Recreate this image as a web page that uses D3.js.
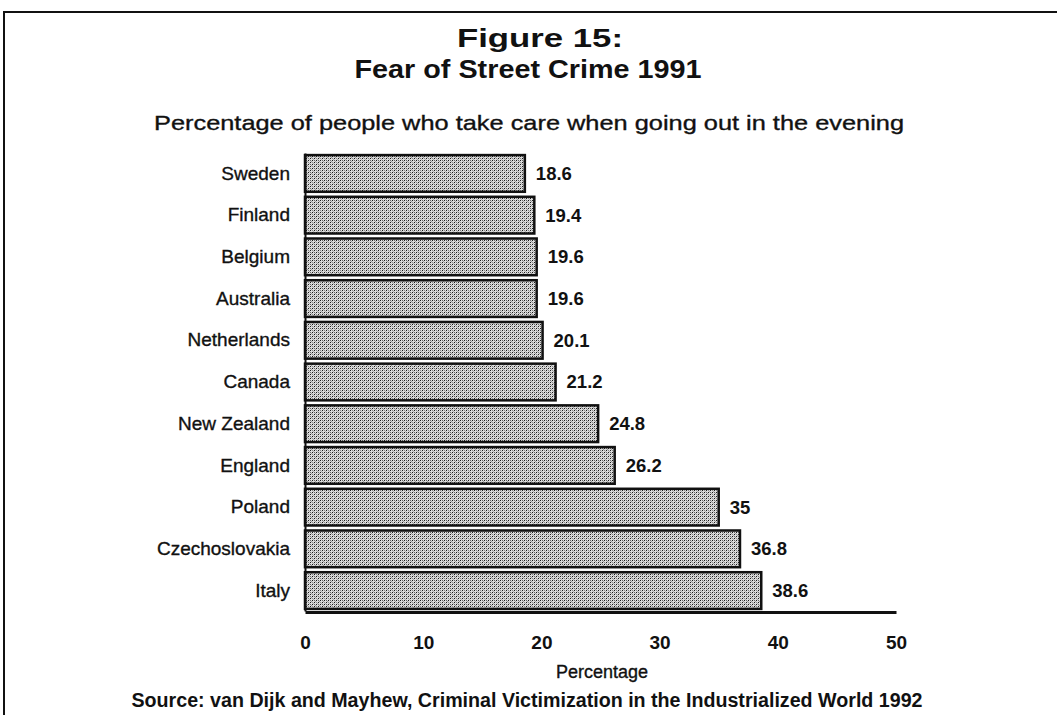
<!DOCTYPE html>
<html>
<head>
<meta charset="utf-8">
<script src="https://cdn.jsdelivr.net/npm/d3@7"></script>
<style>
  body { margin: 0; background: #fff; }
  svg { display: block; }
  text { font-family: "Liberation Sans", Arial, Helvetica, sans-serif; fill: #111; }
  .heavy { stroke: #111; stroke-width: 0.35px; }
</style>
</head>
<body>
<svg id="chart" width="1057" height="715"></svg>
<script>
const countries = [
  "Sweden", "Finland", "Belgium", "Australia", "Netherlands", "Canada",
  "New Zealand", "England", "Poland", "Czechoslovakia", "Italy",
];
const values = [18.6, 19.4, 19.6, 19.6, 20.1, 21.2, 24.8, 26.2, 35, 36.8, 38.6];
const valueLabels = ["18.6", "19.4", "19.6", "19.6", "20.1", "21.2", "24.8", "26.2", "35", "36.8", "38.6"];
const xTicks = [0, 10, 20, 30, 40, 50];
const titleLines = ["Figure 15:", "Fear of Street Crime 1991"];
const subtitle = "Percentage of people who take care when going out in the evening";
const axisTitle = "Percentage";
const sourceNote = "Source: van Dijk and Mayhew, Criminal Victimization in the Industrialized World 1992";

const rows = countries.map((country, i) => ({
  country,
  value: values[i],
  label: valueLabels[i],
}));

const svg = d3.select("#chart");

// halftone-looking fill used for every bar
const pattern = svg
  .append("defs")
  .append("pattern")
  .attr("id", "dots")
  .attr("width", 4)
  .attr("height", 4)
  .attr("patternUnits", "userSpaceOnUse");

pattern.append("rect").attr("width", 4).attr("height", 4).attr("fill", "#dcdcdc");
[[0, 0, "#1a1a1a"], [2, 2, "#1a1a1a"], [2, 0, "#666"], [0, 2, "#888"], [1, 3, "#aaa"], [3, 1, "#999"]].forEach(
  ([px, py, color]) => {
    pattern.append("rect").attr("x", px).attr("y", py).attr("width", 1).attr("height", 1).attr("fill", color);
  },
);

// page frame (top and left edges only, as in the scan)
svg
  .append("path")
  .attr("d", "M3,12H1057M4,12V715")
  .attr("fill", "none")
  .attr("stroke", "#111")
  .attr("stroke-width", 2);

const x = d3.scaleLinear().domain([0, 50]).range([305, 896]);
const y = d3
  .scaleBand()
  .domain(countries)
  .range([153, 611])
  .paddingInner(0.12)
  .paddingOuter(0.05);

// titles
svg
  .selectAll("text.title")
  .data(titleLines)
  .join("text")
  .attr("class", "title")
  .attr("x", (_, i) => (i === 0 ? 540 : 528))
  .attr("y", (_, i) => (i === 0 ? 47 : 78))
  .attr("text-anchor", "middle")
  .attr("font-size", 26)
  .attr("font-weight", "bold")
  .attr("textLength", (_, i) => (i === 0 ? 166 : 347))
  .attr("lengthAdjust", "spacingAndGlyphs")
  .text((line) => line);

svg
  .append("text")
  .attr("class", "heavy")
  .attr("x", 529)
  .attr("y", 130)
  .attr("text-anchor", "middle")
  .attr("font-size", 21)
  .attr("textLength", 750)
  .attr("lengthAdjust", "spacingAndGlyphs")
  .text(subtitle);

// bars
svg
  .append("g")
  .selectAll("rect")
  .data(rows)
  .join("rect")
  .attr("x", x(0))
  .attr("y", (d) => y(d.country))
  .attr("width", (d) => x(d.value) - x(0))
  .attr("height", y.bandwidth())
  .attr("fill", "url(#dots)")
  .attr("stroke", "#111")
  .attr("stroke-width", 2.5);

svg
  .append("g")
  .selectAll("text")
  .data(rows)
  .join("text")
  .attr("x", (d) => x(d.value) + 11)
  .attr("y", (d) => y(d.country) + y.bandwidth() / 2)
  .attr("dy", "0.35em")
  .attr("font-size", 18.5)
  .attr("font-weight", "bold")
  .text((d) => d.label);

// axes
const yAxis = svg
  .append("g")
  .attr("transform", `translate(${x(0)},0)`)
  .call(d3.axisLeft(y).tickSize(0).tickSizeOuter(0).tickPadding(15));
yAxis.select(".domain").attr("stroke", "#111").attr("stroke-width", 2);
yAxis
  .selectAll(".tick text")
  .attr("class", "heavy")
  .attr("font-size", 19)
  .attr("font-family", null)
  .attr("fill", "#111");

const xAxis = svg
  .append("g")
  .attr("transform", "translate(0,612)")
  .call(d3.axisBottom(x).tickValues(xTicks).tickSize(0).tickSizeOuter(0).tickPadding(24));
xAxis.select(".domain").attr("stroke", "#111").attr("stroke-width", 3);
xAxis
  .selectAll(".tick text")
  .attr("font-size", 19)
  .attr("font-weight", "bold")
  .attr("font-family", null)
  .attr("fill", "#111");

svg
  .append("text")
  .attr("class", "heavy")
  .attr("x", 602)
  .attr("y", 678)
  .attr("text-anchor", "middle")
  .attr("font-size", 18)
  .text(axisTitle);

svg
  .append("text")
  .attr("x", 527)
  .attr("y", 707)
  .attr("text-anchor", "middle")
  .attr("font-size", 20)
  .attr("font-weight", "bold")
  .attr("textLength", 791)
  .attr("lengthAdjust", "spacingAndGlyphs")
  .text(sourceNote);
</script>
</body>
</html>
